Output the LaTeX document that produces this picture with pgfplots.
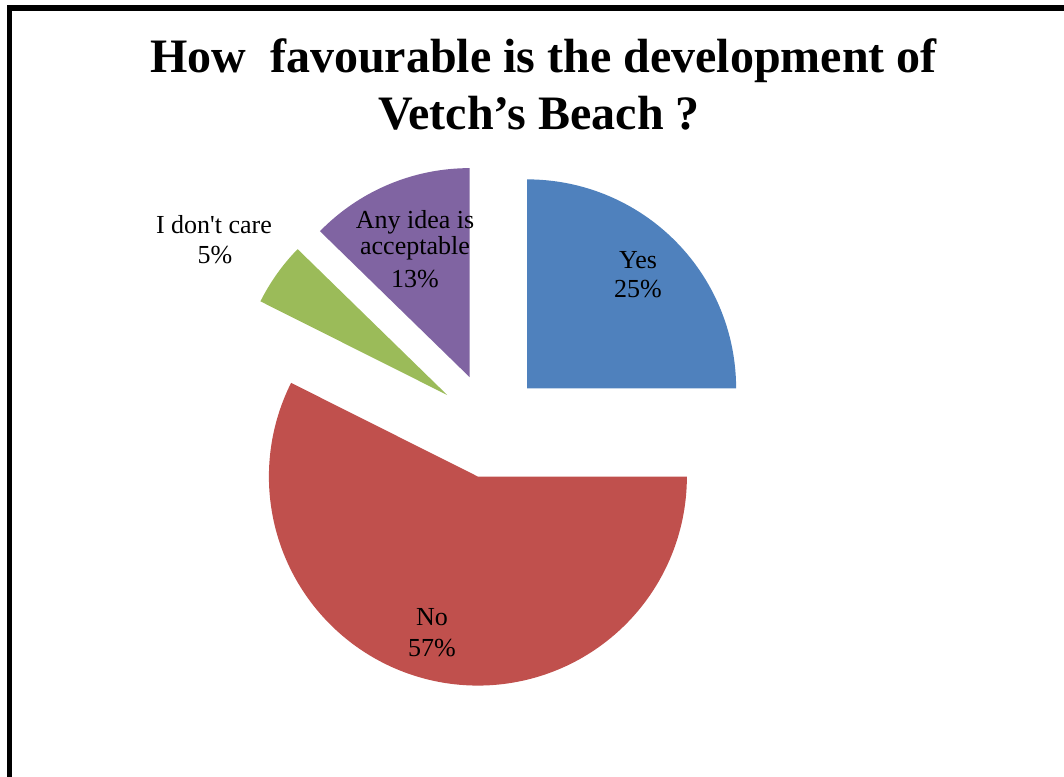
\documentclass[border=0pt]{standalone}
\usepackage{fontspec}
\setmainfont{Liberation Serif}
\usepackage{pgfplots}
\usepackage{pgfplotstable}
\pgfplotsset{compat=1.18}
\definecolor{cYes}{HTML}{4F81BD}
\definecolor{cNo}{HTML}{C0504D}
\definecolor{cIdk}{HTML}{9BBB59}
\definecolor{cAny}{HTML}{8064A2}

\pgfplotstableread{
label value
Yes 25.0
No 57.4
Idk 4.9
Any 12.7
}\piedata

% pie geometry (px units of the picture)
\def\cx{490}\def\cy{350.5}\def\R{209}\def\ex{52.5}

\newcommand\mkslice[3]{% #1 name, #2 cumulative start, #3 value
  \pgfmathsetmacro\tmpK{360/\sumV}%
  \pgfmathsetmacro\tmpS{90-\tmpK*(#2)}%
  \pgfmathsetmacro\tmpE{90-\tmpK*((#2)+(#3))}%
  \pgfmathsetmacro\tmpM{(\tmpS+\tmpE)/2}%
  \pgfmathsetmacro\tmpX{\cx+\ex*cos(\tmpM)}%
  \pgfmathsetmacro\tmpY{\cy+\ex*sin(\tmpM)}%
  \expandafter\xdef\csname #1S\endcsname{\tmpS}%
  \expandafter\xdef\csname #1E\endcsname{\tmpE}%
  \expandafter\xdef\csname #1X\endcsname{\tmpX}%
  \expandafter\xdef\csname #1Y\endcsname{\tmpY}%
}

\begin{document}
\pgfplotstablegetelem{0}{value}\of\piedata \xdef\vYes{\pgfplotsretval}%
\pgfplotstablegetelem{1}{value}\of\piedata \xdef\vNo{\pgfplotsretval}%
\pgfplotstablegetelem{2}{value}\of\piedata \xdef\vIdk{\pgfplotsretval}%
\pgfplotstablegetelem{3}{value}\of\piedata \xdef\vAny{\pgfplotsretval}%
\pgfmathsetmacro\sumV{\vYes+\vNo+\vIdk+\vAny}%
\mkslice{Yes}{0}{\vYes}%
\mkslice{No}{\vYes}{\vNo}%
\mkslice{Idk}{\vYes+\vNo}{\vIdk}%
\mkslice{Any}{\vYes+\vNo+\vIdk}{\vAny}%
\begin{tikzpicture}
\begin{axis}[
  scale only axis, width=798pt, height=582pt,
  xmin=0, xmax=1064, ymin=0, ymax=776,
  hide axis,
]
\path (rel axis cs:0,0) coordinate (bl) (rel axis cs:1,1) coordinate (tr);
% frame
\addplot[black, line width=4pt, line join=miter] coordinates {(9.8,-20) (9.8,768) (1090,768)};
% slices
\addplot[fill=cYes, draw=none, domain=\YesE:\YesS, samples=90, variable=\t]
  ({\YesX+\R*cos(t)},{\YesY+\R*sin(t)}) -- (axis cs:\YesX,\YesY) -- cycle;
\addplot[fill=cNo, draw=none, domain=\NoE:\NoS, samples=160, variable=\t]
  ({\NoX+\R*cos(t)},{\NoY+\R*sin(t)}) -- (axis cs:\NoX,\NoY) -- cycle;
\addplot[fill=cIdk, draw=none, domain=\IdkE:\IdkS, samples=30, variable=\t]
  ({\IdkX+\R*cos(t)},{\IdkY+\R*sin(t)}) -- (axis cs:\IdkX,\IdkY) -- cycle;
\addplot[fill=cAny, draw=none, domain=\AnyE:\AnyS, samples=50, variable=\t]
  ({\AnyX+\R*cos(t)},{\AnyY+\R*sin(t)}) -- (axis cs:\AnyX,\AnyY) -- cycle;
% title
\node[anchor=base, font=\fontsize{36}{43}\selectfont\bfseries] at (axis cs:543.5,703) {How~~favourable is the development of};
\node[anchor=base, font=\fontsize{36}{43}\selectfont\bfseries] at (axis cs:539,646.7) {Vetch’s Beach ?};
% labels
\tikzset{lab/.style={anchor=base, font=\fontsize{19.5}{22.5}\selectfont, inner sep=0pt}}
\node[lab] at (axis cs:638,507.7) {Yes};
\node[lab] at (axis cs:638,478) {25\%};
\node[lab] at (axis cs:432,150.3) {No};
\node[lab] at (axis cs:432,120) {57\%};
\node[lab] at (axis cs:214,542) {I don\textquotesingle t care};
\node[lab] at (axis cs:215,512.7) {5\%};
\node[lab] at (axis cs:415,547.7) {Any idea is};
\node[lab] at (axis cs:415,521) {acceptable};
\node[lab] at (axis cs:415,488.3) {13\%};
\end{axis}
\pgfresetboundingbox
\useasboundingbox (bl) rectangle (tr);
\end{tikzpicture}
\end{document}
